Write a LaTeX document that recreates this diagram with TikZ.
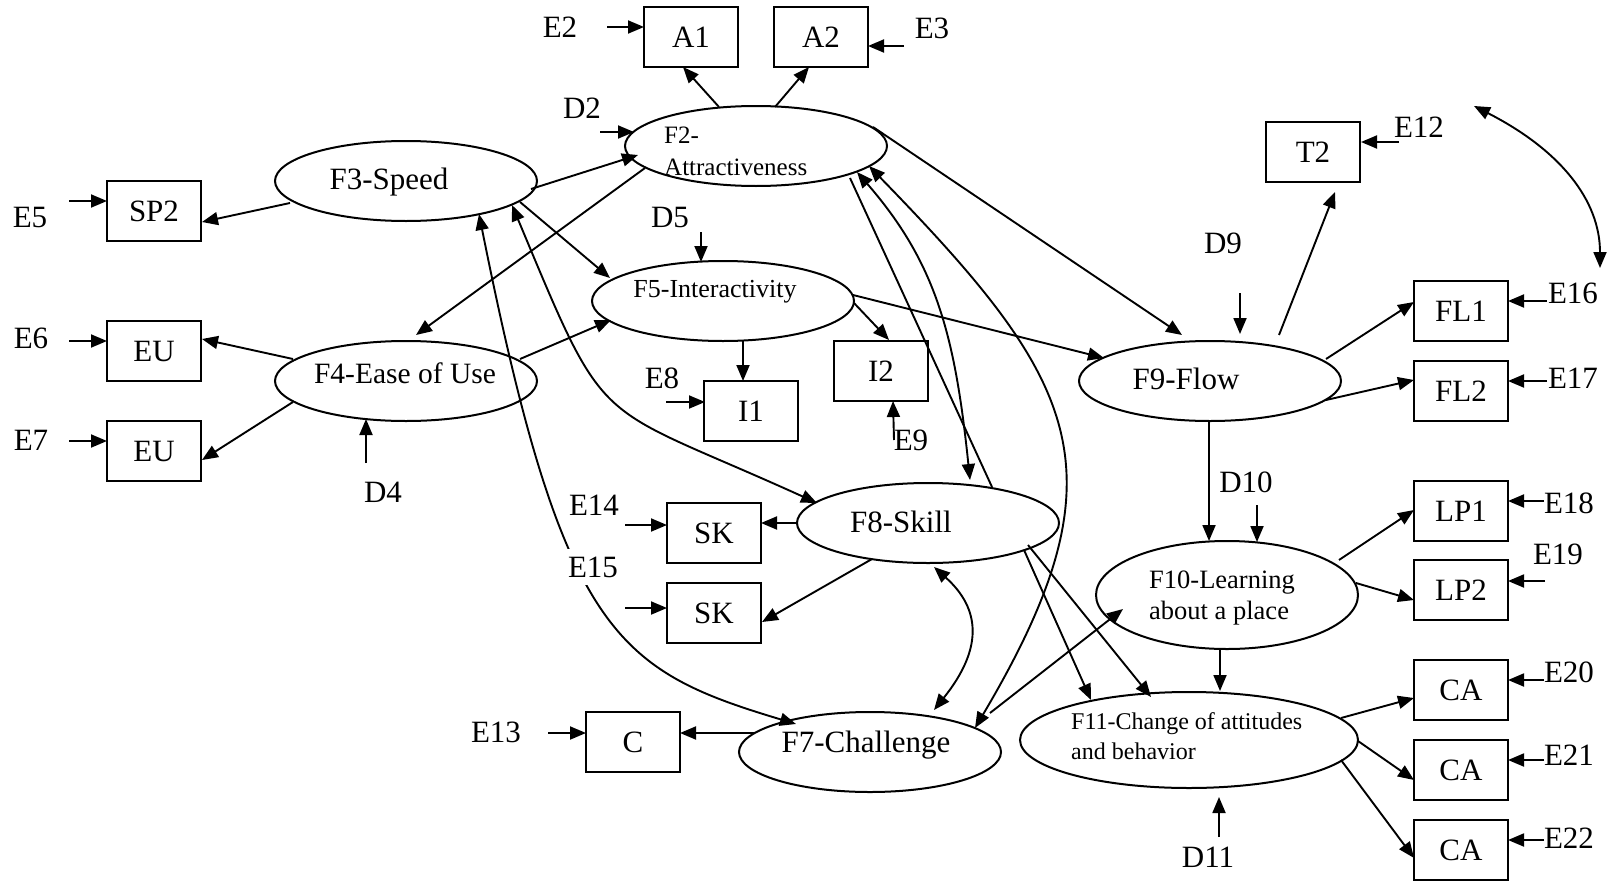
\documentclass[tikz,border=0pt]{standalone}
\usepackage{fontspec}
\setmainfont{Liberation Serif}
\usetikzlibrary{shapes.geometric,arrows.meta,calc}
\newcommand\mainsize{\fontsize{31pt}{37pt}\selectfont}
\newcommand\subsize{\fontsize{26pt}{31pt}\selectfont}
\begin{document}
\begin{tikzpicture}[x=1pt,y=-1pt,
  lat/.style={draw,ellipse,line width=2pt,inner sep=0pt,minimum width=262pt,minimum height=80pt},
  obs/.style={draw,rectangle,line width=2pt,inner sep=0pt,minimum width=94pt,minimum height=60pt,font=\mainsize},
  lbl/.style={inner sep=0pt,font=\mainsize},
  sub/.style={inner sep=0pt,font=\subsize,align=left},
  arr/.style={line width=1.9pt,-{Triangle[length=16pt,width=13pt]}},
  darr/.style={line width=1.9pt,{Triangle[length=16pt,width=13pt]}-{Triangle[length=16pt,width=13pt]}},
  wire/.style={line width=1.9pt}
]
\useasboundingbox (0,0) rectangle (1611,883);

% latent factors
\node[lat] (f2) at (756,146) {};
\node[lat] (f3) at (406,181) {};
\node[lat] (f4) at (406,381) {};
\node[lat] (f5) at (723,301) {};
\node[lat] (f8) at (928,523) {};
\node[lat] (f9) at (1210,381) {};
\node[lat] (f7) at (870,752) {};
\node[lat,minimum height=108pt] (f10) at (1227,595) {};
\node[lat,minimum width=338pt,minimum height=96pt] (f11) at (1189,740) {};

% factor names
\node[sub,anchor=west,font=\fontsize{25pt}{32pt}\selectfont] (f2t) at (664,151) {F2-\\Attractiveness};
\node[lbl] (f3t) at (389,182) {F3-Speed};
\node[lbl,font=\fontsize{29.5pt}{35pt}\selectfont] (f4t) at (405,373) {F4-Ease of Use};
\node[sub] (f5t) at (715,292) {F5-Interactivity};
\node[lbl] (f8t) at (901,522) {F8-Skill};
\node[lbl] (f9t) at (1186,379) {F9-Flow};
\node[lbl] (f7t) at (866,745) {F7-Challenge};
\node[sub,anchor=west,font=\fontsize{26.5pt}{31pt}\selectfont] (f10t) at (1149,598) {F10-Learning\\about a place};
\node[sub,anchor=west,font=\fontsize{24pt}{30pt}\selectfont] (f11t) at (1071,736) {F11-Change of attitudes\\and behavior};

% observed indicators
\node[obs] (a1) at (691,37) {A1};
\node[obs] (a2) at (821,37) {A2};
\node[obs] (sp2) at (154,211) {SP2};
\node[obs] (eu1) at (154,351) {EU};
\node[obs] (eu2) at (154,451) {EU};
\node[obs] (i1) at (751,411) {I1};
\node[obs] (i2) at (881,371) {I2};
\node[obs] (sk1) at (714,533) {SK};
\node[obs] (sk2) at (714,613) {SK};
\node[obs] (c) at (633,742) {C};
\node[obs] (t2) at (1313,152) {T2};
\node[obs] (fl1) at (1461,311) {FL1};
\node[obs] (fl2) at (1461,391) {FL2};
\node[obs] (lp1) at (1461,511) {LP1};
\node[obs] (lp2) at (1461,590) {LP2};
\node[obs] (ca1) at (1461,690) {CA};
\node[obs] (ca2) at (1461,770) {CA};
\node[obs] (ca3) at (1461,850) {CA};

% error and disturbance terms
\node[lbl] (e2) at (560,27) {E2};
\node[lbl] (e3) at (932,28) {E3};
\node[lbl] (d2) at (582,108) {D2};
\node[lbl] (e5) at (30,218) {E5};
\node[lbl] (e6) at (31,338) {E6};
\node[lbl] (e7) at (31,440) {E7};
\node[lbl] (d4) at (383,492) {D4};
\node[lbl] (d5) at (670,218) {D5};
\node[lbl] (e8) at (662,378) {E8};
\node[lbl] (e9) at (911,440) {E9};
\node[lbl] (e12) at (1419,127) {E12};
\node[lbl] (d9) at (1223,243) {D9};
\node[lbl] (e16) at (1573,293) {E16};
\node[lbl] (e17) at (1573,378) {E17};
\node[lbl] (d10) at (1246,482) {D10};
\node[lbl] (e18) at (1569,503) {E18};
\node[lbl] (e19) at (1558,554) {E19};
\node[lbl] (e20) at (1569,672) {E20};
\node[lbl] (e21) at (1569,755) {E21};
\node[lbl] (e22) at (1569,838) {E22};
\node[lbl] (d11) at (1208,857) {D11};
\node[lbl] (e14) at (594,505) {E14};
\node[lbl] (e13) at (496,732) {E13};

% free ends of the error arrows
\coordinate (e2s) at (607,27);
\coordinate (e3s) at (904,46);
\coordinate (d2s) at (600,132);
\coordinate (e5s) at (69,201);
\coordinate (e6s) at (69,341);
\coordinate (e7s) at (69,441);
\coordinate (d4s) at (366,463);
\coordinate (d5s) at (701,232);
\coordinate (e8s) at (666,402);
\coordinate (e9s) at (894,440);
\coordinate (d9s) at (1240,293);
\coordinate (e12s) at (1399,142);
\coordinate (e16s) at (1547,301);
\coordinate (e17s) at (1547,381);
\coordinate (d10s) at (1257,505);
\coordinate (e18s) at (1544,501);
\coordinate (e19s) at (1545,581);
\coordinate (e20s) at (1544,680);
\coordinate (e21s) at (1544,760);
\coordinate (e22s) at (1544,840);
\coordinate (d11s) at (1219,837);
\coordinate (e14s) at (625,525);
\coordinate (e15s) at (625,608);
\coordinate (e13s) at (548,733);

\draw[arr] (e2s) -- ($(a1)+(-47,-10)$);
\draw[arr] (e3s) -- ($(a2)+(47,9)$);
\draw[arr] (d2s) -- ($(f2)+(-122,-14)$);
\draw[arr] (e5s) -- ($(sp2)+(-47,-10)$);
\draw[arr] (e6s) -- ($(eu1)+(-47,-10)$);
\draw[arr] (e7s) -- ($(eu2)+(-47,-10)$);
\draw[arr] (d4s) -- ($(f4)+(-40,38)$);
\draw[arr] (d5s) -- ($(f5)+(-22,-39)$);
\draw[arr] (e8s) -- ($(i1)+(-46,-9)$);
\draw[arr] (e9s) -- ($(i2)+(12,30)$);
\draw[arr] (d9s) -- ($(f9)+(30,-47)$);
\draw[arr] (e12s) -- ($(t2)+(48,-10)$);
\draw[arr] (e16s) -- ($(fl1)+(47,-10)$);
\draw[arr] (e17s) -- ($(fl2)+(47,-10)$);
\draw[arr] (d10s) -- ($(f10)+(30,-53)$);
\draw[arr] (e18s) -- ($(lp1)+(47,-10)$);
\draw[arr] (e19s) -- ($(lp2)+(47,-9)$);
\draw[arr] (e20s) -- ($(ca1)+(47,-10)$);
\draw[arr] (e21s) -- ($(ca2)+(47,-10)$);
\draw[arr] (e22s) -- ($(ca3)+(47,-10)$);
\draw[arr] (d11s) -- ($(f11)+(30,57)$);
\draw[arr] (e14s) -- ($(sk1)+(-47,-8)$);
\draw[arr] (e15s) -- ($(sk2)+(-47,-5)$);
\draw[arr] (e13s) -- ($(c)+(-47,-9)$);

% measurement paths
\draw[arr] ($(f2)+(-37,-39)$) -- ($(a1)+(-8,30)$);
\draw[arr] ($(f2)+(19,-39)$) -- ($(a2)+(-12,30)$);
\draw[arr] ($(f3)+(-116,22)$) -- ($(sp2)+(48,11)$);
\draw[arr] ($(f4)+(-113,-22)$) -- ($(eu1)+(48,-12)$);
\draw[arr] ($(f4)+(-113,21)$) -- ($(eu2)+(48,9)$);
\draw[arr] ($(f5)+(20,40)$) -- ($(i1)+(-8,-30)$);
\draw[arr] ($(f5)+(131,2)$) -- ($(i2)+(8,-31)$);
\draw[arr] ($(f9)+(69,-46)$) -- ($(t2)+(22,40)$);
\draw[arr] ($(f9)+(116,-22)$) -- ($(fl1)+(-47,-9)$);
\draw[arr] ($(f9)+(116,19)$) -- ($(fl2)+(-47,-11)$);
\draw[arr] ($(f10)+(112,-35)$) -- ($(lp1)+(-47,-1)$);
\draw[arr] ($(f10)+(129,-12)$) -- ($(lp2)+(-47,10)$);
\draw[arr] ($(f11)+(152,-22)$) -- ($(ca1)+(-47,8)$);
\draw[arr] ($(f11)+(169,1)$) -- ($(ca2)+(-47,10)$);
\draw[arr] ($(f11)+(152,20)$) -- ($(ca3)+(-47,8)$);
\draw[arr] ($(f8)+(-130,0)$) -- ($(sk1)+(47,-10)$);
\draw[arr] ($(f8)+(-56,36)$) -- ($(sk2)+(48,9)$);
\draw[arr] ($(f7)+(-116,-19)$) -- ($(c)+(47,-9)$);

% structural paths
\draw[arr] ($(f3)+(125,8)$) -- ($(f2)+(-118,9)$);
\draw[arr] ($(f2)+(-111,22)$) -- ($(f4)+(10,-46)$);
\draw[arr] ($(f3)+(114,21)$) -- ($(f5)+(-113,-23)$);
\draw[arr] ($(f4)+(114,-22)$) -- ($(f5)+(-112,19)$);
\draw[arr] ($(f5)+(130,-6)$) -- ($(f9)+(-106,-23)$);
\draw[arr] ($(f2)+(117,-19)$) -- ($(f9)+(-28,-46)$);
\draw[arr] ($(f9)+(-1,40)$) -- ($(f10)+(-18,-54)$);
\draw[arr] ($(f10)+(-7,55)$) -- ($(f11)+(31,-49)$);
\draw[arr] ($(f8)+(96,27)$) -- ($(f11)+(-98,-40)$);
\draw[arr] ($(f8)+(100,22)$) -- ($(f11)+(-38,-43)$);
\draw[arr] ($(f7)+(120,-39)$) -- ($(f10)+(-104,14)$);
\draw[wire] ($(f2)+(94,32)$) -- ($(f8)+(64,-36)$);

% correlations
\draw[darr] ($(f8)+(6,44)$) .. controls +(48,43) and +(48,-60) .. ($(f7)+(64,-42)$);
\draw[darr] ($(f3)+(73,33)$) .. controls +(84,420) and +(-180,-54) .. ($(f7)+(-74,-28)$);
\draw[darr] ($(f3)+(106,24)$) .. controls +(97,232) and +(-227,-103) .. ($(f8)+(-111,-20)$);
\draw[darr] ($(f2)+(101,26)$) .. controls +(79,91) and +(-15,-145) .. ($(f8)+(42,-43)$);
\draw[darr] ($(f2)+(113,20)$) .. controls +(210,216) and +(153,-258) .. ($(f7)+(105,-24)$);
\coordinate (cra) at (1474,106);
\coordinate (crb) at (1600,268);
\draw[darr] (cra) .. controls (1560,150) and (1600,200) .. (crb);

% E15 sits on the F3-F7 curve
\node[lbl,fill=white,inner xsep=2pt,inner ysep=8pt] (e15) at (593,567) {E15};
\end{tikzpicture}
\end{document}
